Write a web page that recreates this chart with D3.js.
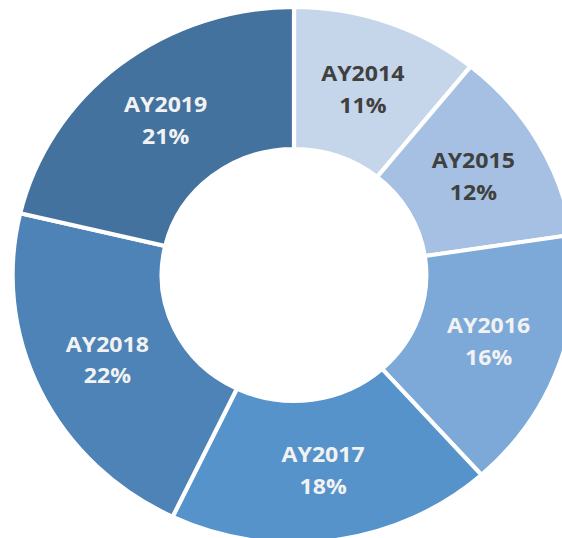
<!DOCTYPE html>
<html>
<head>
<meta charset="utf-8">
<script src="https://cdn.jsdelivr.net/npm/d3@7"></script>
<style>
	html, body { margin: 0; padding: 0; background: #fff; }
	svg { display: block; }
</style>
</head>
<body>
<svg id="chart" width="562" height="538"></svg>
<script>
// slices, clockwise from 12 o'clock
const years = ['AY2014', 'AY2015', 'AY2016', 'AY2017', 'AY2018', 'AY2019'];
const shares = [10.8, 11.8, 15.8, 18.7, 21.6, 21.3];
const pctLabels = ['11%', '12%', '16%', '18%', '22%', '21%'];
const fills = ['#C5D5EA', '#A5C0E3', '#7DA9D9', '#5793CB', '#4D83B6', '#44729F'];
const textFills = ['#404040', '#404040', '#F2F2F2', '#F2F2F2', '#F2F2F2', '#F2F2F2'];

const W = 562, H = 538;
const cx = 294, cy = 275;
const outerR = 268, innerR = 126;
const stretchX = 1.05; // the source picture is a bit wider than tall

const data = years.map((y, i) => ({ year: y, value: shares[i], label: pctLabels[i], i: i }));

const pie = d3.pie()
	.value(d => d.value)
	.sort(null);

const arc = d3.arc()
	.innerRadius(innerR)
	.outerRadius(outerR);

const labelArc = d3.arc()
	.innerRadius((innerR + outerR) / 2)
	.outerRadius((innerR + outerR) / 2);

const colorOf = d3.scaleOrdinal().domain(years).range(fills);
const textColorOf = d3.scaleOrdinal().domain(years).range(textFills);

const svg = d3.select('#chart');

const g = svg.append('g')
	.attr('transform', `translate(${cx},${cy}) scale(${stretchX},1)`);

const arcs = pie(data);

g.selectAll('path.slice')
	.data(arcs)
	.join('path')
	.classed('slice', true)
	.attr('d', arc)
	.attr('fill', d => colorOf(d.data.year))
	.attr('stroke', '#fff')
	.attr('stroke-width', 4)
	.attr('stroke-linejoin', 'miter');

const labels = g.selectAll('text.lbl')
	.data(arcs)
	.join('text')
	.classed('lbl', true)
	.attr('transform', d => `translate(${labelArc.centroid(d)})`)
	.attr('text-anchor', 'middle')
	.attr('font-family', '"Open Sans", "Liberation Sans", sans-serif')
	.attr('font-weight', 'bold')
	.attr('font-size', 22)
	.attr('fill', d => textColorOf(d.data.year));

labels.append('tspan')
	.attr('x', 0)
	.attr('y', -8.5)
	.text(d => d.data.year);

labels.append('tspan')
	.attr('x', 0)
	.attr('y', 23.5)
	.text(d => d.data.label);
</script>
</body>
</html>
